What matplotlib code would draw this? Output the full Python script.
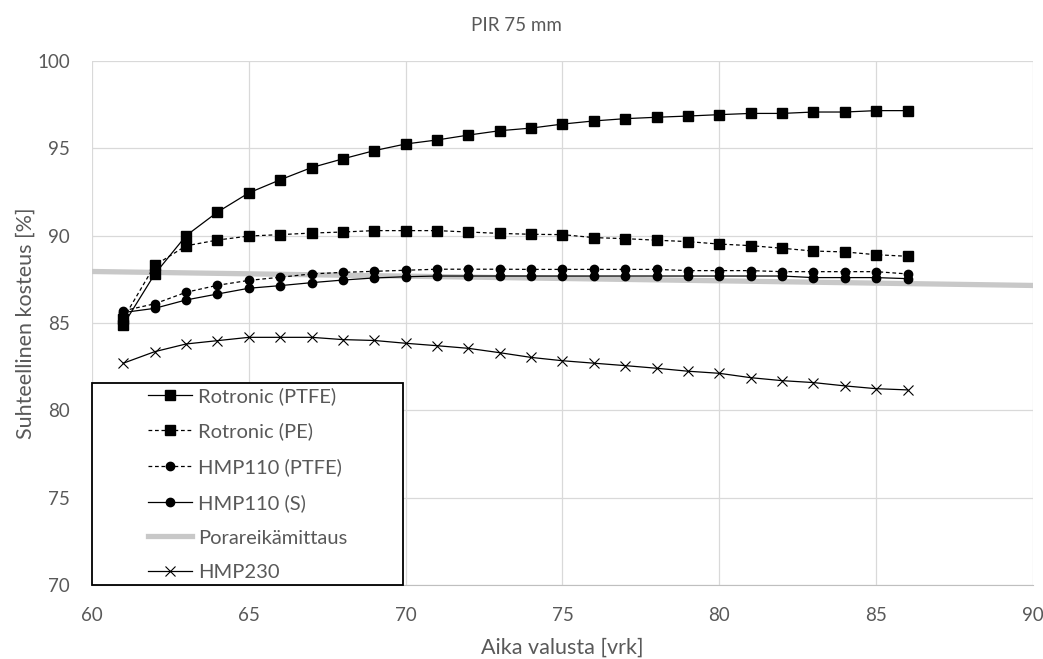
import matplotlib
matplotlib.use("Agg")
import matplotlib.pyplot as plt
import matplotlib.patches as patches

plt.rcParams['font.family'] = ['Lato', 'DejaVu Sans']

# data
days = [61, 62, 63, 64, 65, 66, 67, 68, 69, 70, 71, 72, 73, 74, 75,
        76, 77, 78, 79, 80, 81, 82, 83, 84, 85, 86]

rotronic_ptfe = [84.9, 87.8, 90.0, 91.35, 92.45, 93.2, 93.9, 94.4, 94.87, 95.25,
                 95.48, 95.76, 96.01, 96.16, 96.39, 96.57, 96.7, 96.78, 96.85,
                 96.93, 97.0, 97.0, 97.08, 97.08, 97.16, 97.16]
rotronic_pe = [85.25, 88.3, 89.42, 89.75, 89.98, 90.06, 90.15, 90.21, 90.29, 90.29,
               90.29, 90.21, 90.13, 90.08, 90.06, 89.89, 89.83, 89.74, 89.66,
               89.52, 89.43, 89.28, 89.12, 89.07, 88.91, 88.82]
hmp110_ptfe = [85.7, 86.1, 86.76, 87.16, 87.44, 87.62, 87.81, 87.9, 87.96, 88.02,
               88.08, 88.08, 88.08, 88.07, 88.07, 88.07, 88.07, 88.07, 88.0,
               88.0, 88.0, 87.94, 87.94, 87.94, 87.94, 87.81]
hmp110_s = [85.6, 85.84, 86.32, 86.66, 86.99, 87.14, 87.31, 87.46, 87.58, 87.65,
            87.69, 87.69, 87.69, 87.69, 87.69, 87.69, 87.69, 87.69, 87.69,
            87.69, 87.69, 87.69, 87.6, 87.6, 87.6, 87.54]
hmp230 = [82.7, 83.36, 83.8, 83.99, 84.18, 84.18, 84.18, 84.05, 84.0, 83.84,
          83.7, 83.55, 83.3, 83.03, 82.84, 82.7, 82.56, 82.41, 82.24, 82.12,
          81.87, 81.7, 81.59, 81.4, 81.24, 81.17]
pora_x = [60, 90]
pora_y = [87.95, 87.15]

fig = plt.figure(figsize=(10.43, 6.59), dpi=100)
ax = fig.add_axes([0.0882, 0.1123, 0.9022, 0.7951])

txt = '#595959'
dash = (0, (3, 2.2))

ax.plot(pora_x, pora_y, color='#c8c8c8', lw=3.8, label='Porareikämittaus', zorder=2)
ax.plot(days, rotronic_ptfe, color='black', lw=0.9, marker='s', ms=6.5,
        label='Rotronic (PTFE)', zorder=3)
ax.plot(days, rotronic_pe, color='black', lw=0.9, ls=dash, marker='s', ms=6.5,
        label='Rotronic (PE)', zorder=3)
ax.plot(days, hmp110_ptfe, color='black', lw=0.9, ls=dash, marker='o', ms=6,
        label='HMP110 (PTFE)', zorder=3)
ax.plot(days, hmp110_s, color='black', lw=0.9, marker='o', ms=6,
        label='HMP110 (S)', zorder=3)
ax.plot(days, hmp230, color='black', lw=0.9, marker='x', ms=7, mew=0.8,
        label='HMP230', zorder=3)

ax.set_xlim(60, 90)
ax.set_ylim(70, 100)
ax.set_xticks(range(60, 91, 5))
ax.set_yticks(range(70, 101, 5))
ax.grid(True, color='#d9d9d9', lw=0.9)
ax.set_axisbelow(True)
for s in ['top', 'right', 'left']:
    ax.spines[s].set_visible(False)
ax.spines['bottom'].set_color('#bfbfbf')
ax.tick_params(length=0, labelsize=13.5, colors=txt)
ax.tick_params(axis='y', pad=16)
ax.tick_params(axis='x', pad=16)

fig.text(0.495, 0.962, 'PIR 75 mm', fontsize=13.5, color=txt, ha='center', va='center')
ax.set_xlabel('Aika valusta [vrk]', fontsize=15.5, color=txt, va='center')
ax.xaxis.set_label_coords(0.5, -0.12)
ax.set_ylabel('Suhteellinen kosteus [%]', fontsize=15.5, color=txt, va='center')
ax.yaxis.set_label_coords(-0.071, 0.5)

# legend box
rect = patches.Rectangle((0, 0), 0.3305, 0.385, transform=ax.transAxes,
                         facecolor='white', edgecolor='black', lw=1.3,
                         zorder=5, clip_on=False)
ax.add_patch(rect)
handles, labels = ax.get_legend_handles_labels()
order = ['Rotronic (PTFE)', 'Rotronic (PE)', 'HMP110 (PTFE)', 'HMP110 (S)',
         'Porareikämittaus', 'HMP230']
hl = dict(zip(labels, handles))
leg = ax.legend([hl[k] for k in order], order, loc='center',
                bbox_to_anchor=(0, 0, 0.3305, 0.385), frameon=False,
                fontsize=14.5, labelspacing=0.88, handlelength=2.2,
                handletextpad=0.3, borderpad=0)
for t in leg.get_texts():
    t.set_color(txt)
leg.set_zorder(6)

plt.savefig('out.png', dpi=100)
